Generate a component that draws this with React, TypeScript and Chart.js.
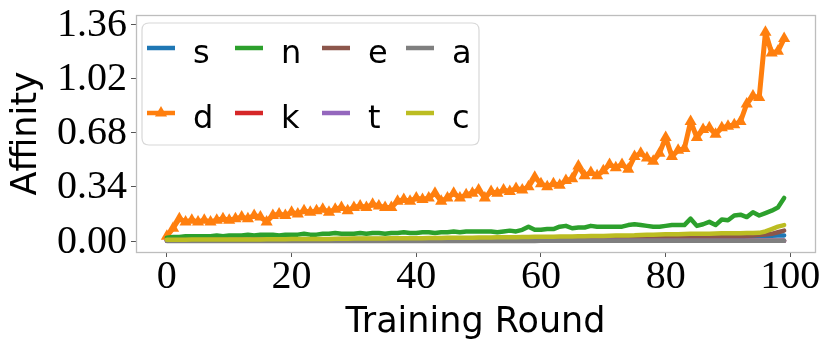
import React, { useEffect, useRef } from 'react';
import { Chart, registerables } from 'chart.js';

Chart.register(...registerables);

const rounds: number[] = Array.from({ length: 100 }, (_, i) => i);

const xTicks = [0, 20, 40, 60, 80, 100];
const yTicks = [0, 0.34, 0.68, 1.02, 1.36];

const seriesNames = ['s', 'd', 'n', 'k', 'e', 't', 'a', 'c'];
const seriesColors = ['#1f77b4', '#ff7f0e', '#2ca02c', '#d62728', '#8c564b', '#9467bd', '#7f7f7f', '#bcbd22'];

const sValues = [
  0.004, 0.004, 0.005, 0.005, 0.005, 0.005, 0.005, 0.005, 0.005, 0.005,
  0.005, 0.005, 0.005, 0.006, 0.006, 0.006, 0.006, 0.006, 0.006, 0.006,
  0.006, 0.006, 0.006, 0.006, 0.007, 0.007, 0.007, 0.007, 0.007, 0.007,
  0.007, 0.007, 0.007, 0.007, 0.007, 0.008, 0.008, 0.008, 0.008, 0.008,
  0.008, 0.008, 0.008, 0.008, 0.008, 0.008, 0.009, 0.009, 0.009, 0.009,
  0.009, 0.009, 0.009, 0.009, 0.010, 0.010, 0.010, 0.010, 0.010, 0.010,
  0.010, 0.011, 0.011, 0.011, 0.011, 0.011, 0.012, 0.012, 0.012, 0.012,
  0.012, 0.013, 0.013, 0.013, 0.013, 0.014, 0.014, 0.014, 0.015, 0.015,
  0.015, 0.016, 0.016, 0.016, 0.017, 0.017, 0.018, 0.018, 0.019, 0.020,
  0.021, 0.022, 0.025, 0.028, 0.030, 0.031, 0.032, 0.033, 0.034, 0.035,
];

const dValues = [
  0.03, 0.08, 0.14, 0.12, 0.13, 0.12, 0.13, 0.12, 0.13, 0.14,
  0.13, 0.14, 0.15, 0.14, 0.16, 0.15, 0.12, 0.16, 0.17, 0.16,
  0.18, 0.17, 0.19, 0.18, 0.19, 0.20, 0.18, 0.20, 0.21, 0.19,
  0.21, 0.22, 0.21, 0.23, 0.22, 0.21, 0.21, 0.25, 0.26, 0.25,
  0.27, 0.26, 0.27, 0.30, 0.25, 0.27, 0.30, 0.27, 0.29, 0.30,
  0.32, 0.27, 0.31, 0.30, 0.32, 0.31, 0.33, 0.32, 0.34, 0.40,
  0.36, 0.34, 0.36, 0.35, 0.38, 0.39, 0.47, 0.41, 0.43, 0.41,
  0.44, 0.48, 0.46, 0.48, 0.45, 0.53, 0.55, 0.52, 0.50, 0.55,
  0.65, 0.53, 0.57, 0.58, 0.75, 0.65, 0.70, 0.71, 0.67, 0.71,
  0.72, 0.73, 0.75, 0.86, 0.91, 0.90, 1.31, 1.18, 1.19, 1.27,
];

const nValues = [
  0.020, 0.025, 0.025, 0.030, 0.030, 0.030, 0.030, 0.030, 0.035, 0.030,
  0.035, 0.035, 0.035, 0.040, 0.035, 0.040, 0.040, 0.040, 0.035, 0.040,
  0.040, 0.040, 0.045, 0.040, 0.040, 0.045, 0.045, 0.050, 0.045, 0.045,
  0.045, 0.050, 0.045, 0.050, 0.050, 0.045, 0.050, 0.050, 0.055, 0.050,
  0.050, 0.055, 0.055, 0.050, 0.055, 0.055, 0.060, 0.055, 0.060, 0.060,
  0.060, 0.060, 0.060, 0.055, 0.060, 0.065, 0.060, 0.070, 0.090, 0.070,
  0.070, 0.075, 0.075, 0.090, 0.095, 0.080, 0.085, 0.085, 0.095, 0.090,
  0.090, 0.090, 0.090, 0.090, 0.100, 0.105, 0.100, 0.095, 0.090, 0.090,
  0.095, 0.100, 0.100, 0.100, 0.140, 0.095, 0.105, 0.120, 0.100, 0.135,
  0.130, 0.160, 0.165, 0.150, 0.180, 0.160, 0.175, 0.190, 0.210, 0.270,
];

const kValues = [
  0.001, 0.001, 0.001, 0.001, 0.001, 0.001, 0.001, 0.001, 0.001, 0.001,
  0.001, 0.001, 0.001, 0.001, 0.001, 0.001, 0.001, 0.001, 0.001, 0.001,
  0.001, 0.001, 0.001, 0.001, 0.001, 0.001, 0.001, 0.001, 0.001, 0.001,
  0.001, 0.001, 0.001, 0.001, 0.001, 0.001, 0.001, 0.001, 0.001, 0.001,
  0.001, 0.001, 0.001, 0.001, 0.001, 0.001, 0.001, 0.001, 0.001, 0.001,
  0.001, 0.001, 0.001, 0.001, 0.001, 0.001, 0.001, 0.001, 0.001, 0.001,
  0.001, 0.001, 0.001, 0.001, 0.001, 0.001, 0.001, 0.001, 0.001, 0.001,
  0.001, 0.001, 0.001, 0.001, 0.001, 0.001, 0.001, 0.001, 0.001, 0.001,
  0.001, 0.001, 0.001, 0.001, 0.001, 0.001, 0.001, 0.001, 0.001, 0.001,
  0.001, 0.001, 0.001, 0.002, 0.002, 0.002, 0.002, 0.002, 0.002, 0.002,
];

const eValues = [
  0.006, 0.006, 0.006, 0.007, 0.007, 0.007, 0.007, 0.008, 0.008, 0.008,
  0.008, 0.008, 0.009, 0.009, 0.009, 0.009, 0.009, 0.010, 0.010, 0.010,
  0.010, 0.010, 0.010, 0.011, 0.011, 0.011, 0.011, 0.011, 0.012, 0.012,
  0.012, 0.012, 0.012, 0.012, 0.013, 0.013, 0.013, 0.013, 0.013, 0.014,
  0.014, 0.014, 0.014, 0.014, 0.015, 0.015, 0.015, 0.015, 0.015, 0.016,
  0.016, 0.016, 0.016, 0.016, 0.017, 0.017, 0.017, 0.017, 0.018, 0.018,
  0.018, 0.018, 0.019, 0.019, 0.019, 0.019, 0.020, 0.020, 0.020, 0.020,
  0.021, 0.021, 0.021, 0.022, 0.022, 0.022, 0.023, 0.023, 0.023, 0.024,
  0.024, 0.025, 0.025, 0.025, 0.026, 0.026, 0.027, 0.027, 0.028, 0.028,
  0.029, 0.030, 0.031, 0.033, 0.035, 0.037, 0.040, 0.045, 0.055, 0.065,
];

const tValues = [
  0.001, 0.001, 0.001, 0.001, 0.001, 0.001, 0.001, 0.001, 0.001, 0.001,
  0.001, 0.001, 0.001, 0.001, 0.001, 0.001, 0.001, 0.001, 0.001, 0.001,
  0.001, 0.001, 0.001, 0.001, 0.001, 0.001, 0.001, 0.001, 0.001, 0.001,
  0.001, 0.001, 0.001, 0.001, 0.001, 0.001, 0.001, 0.001, 0.001, 0.001,
  0.001, 0.001, 0.001, 0.001, 0.001, 0.001, 0.001, 0.001, 0.001, 0.001,
  0.001, 0.001, 0.001, 0.001, 0.001, 0.001, 0.001, 0.001, 0.001, 0.001,
  0.001, 0.001, 0.001, 0.001, 0.001, 0.001, 0.001, 0.001, 0.001, 0.001,
  0.001, 0.001, 0.001, 0.001, 0.001, 0.001, 0.001, 0.001, 0.001, 0.001,
  0.001, 0.001, 0.001, 0.001, 0.001, 0.001, 0.001, 0.001, 0.001, 0.001,
  0.001, 0.001, 0.001, 0.001, 0.001, 0.001, 0.001, 0.001, 0.001, 0.001,
];

const aValues = [
  0.000, 0.000, 0.000, 0.000, 0.000, 0.000, 0.000, 0.000, 0.000, 0.000,
  0.000, 0.000, 0.000, 0.000, 0.000, 0.000, 0.000, 0.000, 0.000, 0.000,
  0.000, 0.000, 0.000, 0.000, 0.000, 0.000, 0.000, 0.000, 0.000, 0.000,
  0.000, 0.000, 0.000, 0.000, 0.000, 0.000, 0.000, 0.000, 0.000, 0.000,
  0.000, 0.000, 0.000, 0.000, 0.000, 0.000, 0.000, 0.000, 0.000, 0.000,
  0.000, 0.000, 0.000, 0.000, 0.000, 0.000, 0.000, 0.000, 0.000, 0.000,
  0.001, 0.001, 0.001, 0.001, 0.001, 0.001, 0.001, 0.001, 0.001, 0.001,
  0.001, 0.001, 0.001, 0.001, 0.001, 0.001, 0.001, 0.001, 0.001, 0.001,
  0.001, 0.001, 0.001, 0.001, 0.001, 0.001, 0.001, 0.001, 0.001, 0.001,
  0.001, 0.001, 0.001, 0.001, 0.001, 0.001, 0.001, 0.001, 0.001, 0.001,
];

const cValues = [
  0.008, 0.008, 0.008, 0.008, 0.009, 0.009, 0.009, 0.009, 0.009, 0.009,
  0.010, 0.010, 0.010, 0.010, 0.010, 0.010, 0.011, 0.011, 0.011, 0.011,
  0.012, 0.012, 0.012, 0.012, 0.013, 0.013, 0.013, 0.014, 0.014, 0.014,
  0.015, 0.015, 0.015, 0.016, 0.016, 0.016, 0.017, 0.017, 0.017, 0.018,
  0.018, 0.018, 0.019, 0.019, 0.019, 0.020, 0.020, 0.020, 0.021, 0.021,
  0.022, 0.022, 0.022, 0.023, 0.023, 0.024, 0.024, 0.025, 0.025, 0.026,
  0.026, 0.027, 0.027, 0.028, 0.028, 0.029, 0.030, 0.030, 0.031, 0.032,
  0.032, 0.033, 0.034, 0.034, 0.035, 0.036, 0.038, 0.039, 0.040, 0.041,
  0.042, 0.042, 0.043, 0.044, 0.045, 0.045, 0.046, 0.046, 0.047, 0.048,
  0.048, 0.049, 0.049, 0.050, 0.050, 0.051, 0.060, 0.075, 0.090, 0.100,
];

const seriesValues = [sValues, dValues, nValues, kValues, eValues, tValues, aValues, cValues];

const TICK_FONT = '"Liberation Serif", "DejaVu Serif", serif';
const SANS_FONT = '"DejaVu Sans", sans-serif';

const framePlugin = {
  id: 'frame',
  afterDatasetsDraw(chart: any) {
    const { ctx, chartArea: a } = chart;
    ctx.save();
    ctx.strokeStyle = '#bdbdbd';
    ctx.lineWidth = 1.3;
    ctx.strokeRect(Math.round(a.left) + 0.5, Math.round(a.top) + 0.5, Math.round(a.right - a.left), Math.round(a.bottom - a.top));
    ctx.restore();
  },
};

const legendPlugin = {
  id: 'gridLegend',
  afterDraw(chart: any) {
    const { ctx } = chart;
    const bx = 142, by = 23, bw = 337, bh = 122, r = 7;
    ctx.save();
    ctx.beginPath();
    ctx.moveTo(bx + r, by);
    ctx.lineTo(bx + bw - r, by);
    ctx.quadraticCurveTo(bx + bw, by, bx + bw, by + r);
    ctx.lineTo(bx + bw, by + bh - r);
    ctx.quadraticCurveTo(bx + bw, by + bh, bx + bw - r, by + bh);
    ctx.lineTo(bx + r, by + bh);
    ctx.quadraticCurveTo(bx, by + bh, bx, by + bh - r);
    ctx.lineTo(bx, by + r);
    ctx.quadraticCurveTo(bx, by, bx + r, by);
    ctx.closePath();
    ctx.fillStyle = 'rgba(255,255,255,0.8)';
    ctx.fill();
    ctx.strokeStyle = '#d8d8d8';
    ctx.lineWidth = 1.2;
    ctx.stroke();

    const colX = [147, 235, 322, 406];
    const rowY = [48, 113];
    const datasets = chart.data.datasets;
    datasets.forEach((ds: any, i: number) => {
      const col = Math.floor(i / 2);
      const row = i % 2;
      const x = colX[col];
      const y = rowY[row];
      ctx.strokeStyle = ds.borderColor;
      ctx.lineWidth = 4.5;
      ctx.lineCap = 'butt';
      ctx.beginPath();
      ctx.moveTo(x, y);
      ctx.lineTo(x + 28, y);
      ctx.stroke();
      if (ds.pointRadius > 0) {
        const cx = x + 14;
        const rad = 7;
        ctx.fillStyle = ds.borderColor;
        ctx.beginPath();
        ctx.moveTo(cx, y - rad);
        ctx.lineTo(cx + rad * 0.866, y + rad * 0.5);
        ctx.lineTo(cx - rad * 0.866, y + rad * 0.5);
        ctx.closePath();
        ctx.fill();
      }
      ctx.fillStyle = '#000';
      ctx.font = '32px ' + SANS_FONT;
      ctx.textBaseline = 'alphabetic';
      ctx.textAlign = 'left';
      ctx.fillText(ds.label, x + 46, y + 15);
    });
    ctx.restore();
  },
};

export default function App() {
  const canvasRef = useRef<HTMLCanvasElement | null>(null);

  useEffect(() => {
    if (!canvasRef.current) return;
    const datasets = seriesNames.map((name, i) => ({
      label: name,
      data: seriesValues[i],
      borderColor: seriesColors[i],
      backgroundColor: seriesColors[i],
      borderWidth: name === 'd' ? 5 : 4.5,
      pointRadius: name === 'd' ? 7 : 0,
      pointHoverRadius: 0,
      pointStyle: 'triangle',
      pointBorderWidth: 0,
      pointBackgroundColor: seriesColors[i],
      borderJoinStyle: 'round',
      borderCapStyle: 'round',
      tension: 0,
      order: seriesNames.length - i,
    }));

    const chart = new Chart(canvasRef.current, {
      type: 'line',
      data: { labels: rounds, datasets },
      options: {
        responsive: false,
        animation: false,
        layout: { padding: { left: 0, right: 16, top: 15, bottom: 0 } },
        plugins: { legend: { display: false }, tooltip: { enabled: false } },
        scales: {
          x: {
            type: 'linear',
            min: -4.95,
            max: 103.95,
            afterBuildTicks: (s: any) => { s.ticks = xTicks.map((v) => ({ value: v })); },
            afterFit: (s: any) => { s.height = 102; s.paddingLeft = 0; s.paddingRight = 0; },
            grid: { display: true, drawOnChartArea: false, drawTicks: true, tickLength: 5, tickColor: '#555', tickWidth: 1 },
            border: { display: false },
            ticks: {
              font: { family: TICK_FONT, size: 40, lineHeight: 1 },
              color: '#000',
              padding: 0,
              maxRotation: 0,
              autoSkip: false,
              callback: (v: any) => String(v),
            },
            title: {
              display: true,
              text: 'Training Round',
              font: { family: SANS_FONT, size: 35, lineHeight: 1 },
              color: '#000',
              padding: { top: 0, bottom: 14 },
            },
          },
          y: {
            type: 'linear',
            min: -0.069,
            max: 1.418,
            afterBuildTicks: (s: any) => { s.ticks = yTicks.map((v) => ({ value: v })); },
            afterFit: (s: any) => { s.width = 136; s.paddingTop = 0; s.paddingBottom = 0; },
            grid: { display: true, drawOnChartArea: false, drawTicks: true, tickLength: 5, tickColor: '#555', tickWidth: 1 },
            border: { display: false },
            ticks: {
              font: { family: TICK_FONT, size: 40, lineHeight: 1 },
              color: '#000',
              padding: 4,
              autoSkip: false,
              labelOffset: 1,
              callback: (v: any) => Number(v).toFixed(2),
            },
            title: {
              display: true,
              text: 'Affinity',
              font: { family: SANS_FONT, size: 35, lineHeight: 1 },
              color: '#000',
              padding: { top: 9, bottom: 0 },
            },
          },
        },
      },
      plugins: [framePlugin, legendPlugin],
    } as any);

    return () => chart.destroy();
  }, []);

  return (
    <div style={{ position: 'fixed', left: 0, top: 0, width: 831, height: 354, background: '#fff' }}>
      <canvas ref={canvasRef} width={831} height={354} style={{ display: 'block', width: 831, height: 354 }} />
    </div>
  );
}
